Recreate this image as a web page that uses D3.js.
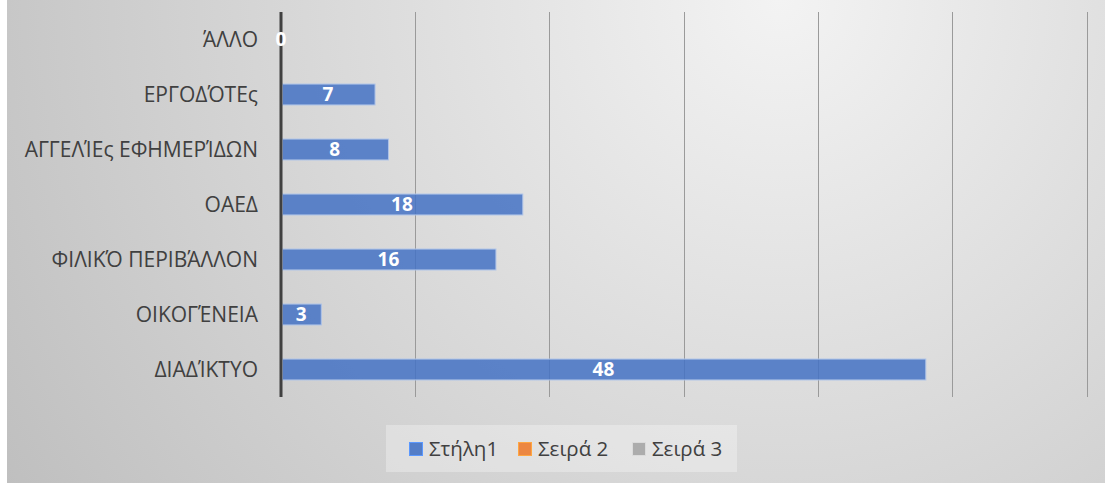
<!DOCTYPE html>
<html><head><meta charset="utf-8">
<script src="https://cdn.jsdelivr.net/npm/d3@7"></script>
<style>html,body{margin:0;padding:0;background:#fff;}svg{display:block;}</style>
</head><body>
<svg id="c" width="1105" height="483"></svg>
<script>
const categories = ["ΆΛΛΟ","ΕΡΓΟΔΌΤΕς","ΑΓΓΕΛΊΕς ΕΦΗΜΕΡΊΔΩΝ","ΟΑΕΔ","ΦΙΛΙΚΌ ΠΕΡΙΒΆΛΛΟΝ","ΟΙΚΟΓΈΝΕΙΑ","ΔΙΑΔΊΚΤΥΟ"];
const values = [0,7,8,18,16,3,48];
const gridTicks = [10,20,30,40,50,60];
const legendNames = ["Στήλη1","Σειρά 2","Σειρά 3"];
const legendColors = ["#4472C4","#ED7D31","#A5A5A5"];

const svg = d3.select("#c");
const font = "'Open Sans', sans-serif";
const defs = svg.append("defs");
const rg = defs.append("radialGradient").attr("id","bg").attr("gradientUnits","userSpaceOnUse")
  .attr("cx",780).attr("cy",0).attr("r",950);
rg.append("stop").attr("offset","0%").attr("stop-color","#f3f3f3");
rg.append("stop").attr("offset","100%").attr("stop-color","#bdbdbd");
svg.append("rect").attr("x",7).attr("y",0).attr("width",1098).attr("height",483).attr("fill","url(#bg)");

const x = d3.scaleLinear().domain([0,60]).range([281,1087]);
const y = d3.scaleBand().domain(categories).range([12,397]).paddingInner(0.62).paddingOuter(0.31);

// gridlines
svg.append("g").selectAll("line").data(gridTicks).join("line")
  .attr("x1",d=>x(d)).attr("x2",d=>x(d)).attr("y1",12).attr("y2",397)
  .attr("stroke","#9a9a9a").attr("stroke-width",1).attr("shape-rendering","crispEdges");

// bars
svg.append("g").selectAll("rect").data(values).join("rect")
  .attr("x",x(0)+1.5).attr("y",(d,i)=>y(categories[i]))
  .attr("width",d=>Math.max(0,x(d)-x(0)-1.5)).attr("height",y.bandwidth())
  .attr("fill","#4472C4").attr("fill-opacity",0.85)
  .attr("stroke",d=>d>0?"#aec3e8":"none").attr("stroke-width",1);

// axis line
svg.append("line").attr("x1",x(0)).attr("x2",x(0)).attr("y1",12).attr("y2",397)
  .attr("stroke","#404040").attr("stroke-width",3);

// category labels
svg.append("g").selectAll("text").data(categories).join("text")
  .attr("x",258).attr("y",d=>y(d)+y.bandwidth()/2).attr("dy","0.36em")
  .attr("text-anchor","end").attr("font-family",font).attr("font-size",21)
  .attr("fill","#404040").text(d=>d);

// value labels
svg.append("g").selectAll("text").data(values).join("text")
  .attr("x",d=>(x(0)+x(d))/2).attr("y",(d,i)=>y(categories[i])+y.bandwidth()/2).attr("dy","0.36em")
  .attr("text-anchor","middle").attr("font-family",font).attr("font-weight","bold").attr("font-size",19)
  .attr("fill","#ffffff").text(d=>d);

// legend
const lg = svg.append("g");
lg.append("rect").attr("x",386).attr("y",425).attr("width",351).attr("height",47).attr("fill","#ffffff").attr("fill-opacity",0.3);
const lx = [409,518,632];
legendNames.forEach((n,i)=>{
  lg.append("rect").attr("x",lx[i]+0.5).attr("y",442.5).attr("width",13).attr("height",13)
    .attr("fill",legendColors[i]).attr("fill-opacity",0.9).attr("stroke",d3.color(legendColors[i]).brighter(0.8)).attr("stroke-width",1);
  lg.append("text").attr("x",lx[i]+20).attr("y",449).attr("dy","0.36em")
    .attr("font-family",font).attr("font-size",20.5).attr("fill","#404040").text(n);
});
</script>
</body></html>
